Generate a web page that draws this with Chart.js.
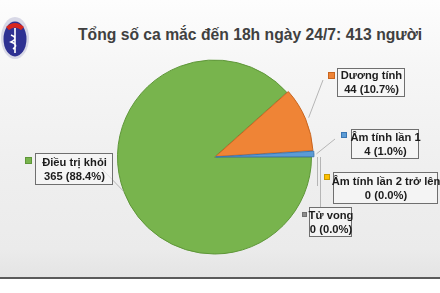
<!DOCTYPE html>
<html>
<head>
<meta charset="utf-8">
<script src="https://cdn.jsdelivr.net/npm/chart.js@4.4.1/dist/chart.umd.min.js"></script>
<style>
  html, body { margin:0; padding:0; width:440px; height:293px; overflow:hidden; background:#ffffff; }
  #bg { position:absolute; left:0; top:0; width:440px; height:277px;
        background: linear-gradient(to bottom, #fdfdfd 0%, #f6f6f6 25%, #efefef 60%, #ebebeb 90%, #e4e4e4 100%); }
  #rule { position:absolute; left:0; top:277px; width:440px; height:2px; background:#5a5a5a; }
  #title { position:absolute; left:78px; top:26px; white-space:nowrap;
           font: bold 15.7px "Liberation Sans", Arial, sans-serif; color:#404040; }
  #logo { position:absolute; left:0px; top:13px; }
  canvas { position:absolute; left:0; top:0; }
</style>
</head>
<body>
<div id="bg"></div>
<div id="rule"></div>
<svg id="logo" width="30" height="50" viewBox="0 0 30 50">
  <ellipse cx="15" cy="25" rx="14" ry="21" fill="#d8d8e6"/>
  <ellipse cx="15" cy="26" rx="11.5" ry="17.5" fill="#2e3192"/>
  <path d="M6 14 Q15 6 24 14 L21 17 Q15 12 9 17 Z" fill="#d7261e"/>
  <path d="M15 15 L15 40 M11 22 Q19 25 11 29 Q19 32 13 36" stroke="#ffffff" stroke-width="1.6" fill="none"/>
</svg>
<div id="title">Tổng số ca mắc đến 18h ngày 24/7: 413 người</div>
<canvas id="c" width="440" height="293"></canvas>
<script>
const categories = ['Điều trị khỏi', 'Dương tính', 'Âm tính lần 1', 'Âm tính lần 2 trở lên', 'Tử vong'];
const values = [365, 44, 4, 0, 0];
const sliceColors = ['#78b44d', '#ef8436', '#5b9bd5', '#ffc000', '#8c8c8c'];
const sliceBorders = ['#5e9638', '#c8651f', '#3a76b3', '#c99a00', '#707070'];
const sliceOffsets = [0, 5, 5, 0, 0];

// label box layout (px)
const labelBoxes = [
  { x: 35,  y: 153, w: 77,  h: 31, sq: [25, 157, 7], from: [100, 167] },
  { x: 337, y: 68,  w: 67,  h: 28, sq: [328, 72, 7], from: [323, 80] },
  { x: 351, y: 129, w: 67,  h: 29, sq: [341, 132, 6], from: [335, 139] },
  { x: 333, y: 172, w: 104, h: 31, sq: [324, 174, 6], from: [317, 186], vertical: 317 },
  { x: 309, y: 207, w: 42,  h: 29, sq: [302, 212, 5], from: [320, 207], vertical: 320 }
];

const total = values.reduce((a, b) => a + b, 0);

const labelPlugin = {
  id: 'labelPlugin',
  afterDatasetsDraw(chart) {
    const ctx = chart.ctx;
    const meta = chart.getDatasetMeta(0);
    ctx.save();
    ctx.strokeStyle = '#b5b5b5';
    ctx.lineWidth = 1;
    meta.data.forEach((arc, i) => {
      const p = arc.getProps(['x', 'y', 'startAngle', 'endAngle', 'outerRadius'], true);
      const mid = (p.startAngle + p.endAngle) / 2;
      const off = sliceOffsets[i];
      const ex = p.x + Math.cos(mid) * (p.outerRadius + off);
      const ey = p.y + Math.sin(mid) * (p.outerRadius + off);
      const b = labelBoxes[i];
      ctx.beginPath();
      if (b.vertical !== undefined) {
        ctx.moveTo(b.vertical + 0.5, ey);
        ctx.lineTo(b.vertical + 0.5, b.from[1]);
      } else {
        ctx.moveTo(b.from[0], b.from[1]);
        ctx.lineTo(ex, ey);
      }
      ctx.stroke();
    });
    categories.forEach((name, i) => {
      const b = labelBoxes[i];
      ctx.fillStyle = 'rgba(248,248,248,0.6)';
      ctx.fillRect(b.x, b.y, b.w, b.h);
      ctx.strokeStyle = '#6f6f6f';
      ctx.lineWidth = 1;
      ctx.strokeRect(b.x + 0.5, b.y + 0.5, b.w, b.h);
      ctx.fillStyle = sliceColors[i];
      ctx.fillRect(b.sq[0], b.sq[1], b.sq[2], b.sq[2]);
      ctx.strokeStyle = sliceBorders[i];
      ctx.strokeRect(b.sq[0] + 0.5, b.sq[1] + 0.5, b.sq[2] - 1, b.sq[2] - 1);
      ctx.fillStyle = '#1c1c1c';
      ctx.font = 'bold 11.2px "Liberation Sans", Arial, sans-serif';
      ctx.textAlign = 'center';
      ctx.textBaseline = 'middle';
      const cx = b.x + b.w / 2 + 1;
      const cy = b.y + b.h / 2 + 1;
      const pct = (values[i] / total * 100).toFixed(1);
      ctx.fillText(name, cx, cy - 7);
      ctx.fillText(values[i] + ' (' + pct + '%)', cx, cy + 7);
    });
    ctx.restore();
  }
};

new Chart(document.getElementById('c'), {
  type: 'pie',
  data: {
    labels: categories,
    datasets: [{
      data: values,
      backgroundColor: sliceColors,
      borderColor: sliceBorders,
      borderWidth: values.map(v => v > 0 ? 1 : 0),
      offset: sliceOffsets
    }]
  },
  options: {
    responsive: false,
    animation: false,
    rotation: 90,
    radius: 97,
    layout: { padding: { left: 101, right: 112, top: 50, bottom: 29 } },
    plugins: { legend: { display: false }, tooltip: { enabled: false }, title: { display: false } }
  },
  plugins: [labelPlugin]
});
</script>
</body>
</html>
